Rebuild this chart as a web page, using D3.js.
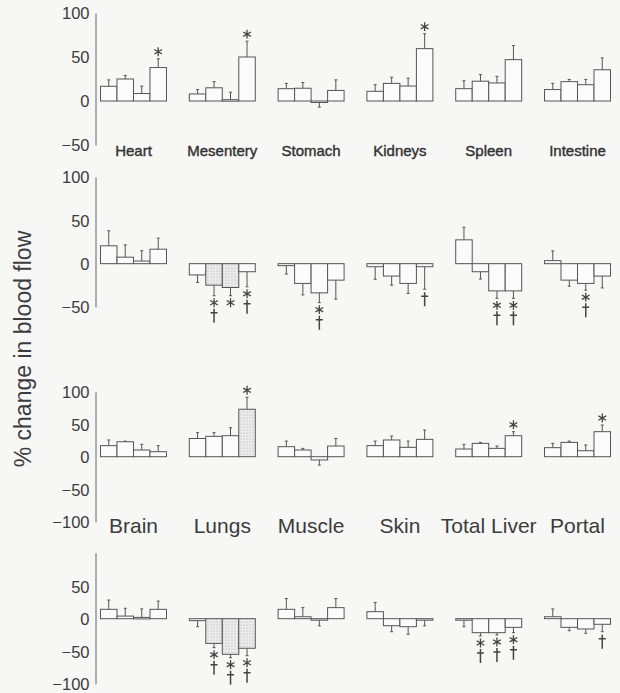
<!DOCTYPE html>
<html>
<head>
<meta charset="utf-8">
<script src="https://cdn.jsdelivr.net/npm/d3@7"></script>
<style>
  body { margin: 0; background: #f7f7f6; }
  svg { display: block; }
  text { font-family: "Liberation Sans", Arial, Helvetica, sans-serif; fill: #3c3c3c; }
</style>
</head>
<body>
<svg id="chart" width="620" height="693"></svg>
<script>
// organ names
const organsTop = ["Heart", "Mesentery", "Stomach", "Kidneys", "Spleen", "Intestine"];
const organsBottom = ["Brain", "Lungs", "Muscle", "Skin", "Total Liver", "Portal"];

// panel 1 (top organs) - mean % change and error
const p1Mean = [[16.7, 25, 8.5, 38], [8, 15, 1.5, 50], [14, 14.5, -1, 12], [11, 20, 17, 59.5], [14, 22.5, 20.5, 47], [13, 22, 18.5, 35.5]];
const p1Err = [[7.3, 4, 8.5, 10], [5, 7, 8.5, 18], [6, 6.5, 6, 12], [7.5, 7, 9, 17], [9, 7.5, 7.5, 16], [7, 2.5, 6, 13.5]];
const p1Sig = [["", "", "", "*"], ["", "", "", "*"], ["", "", "", ""], ["", "", "", "*"], ["", "", "", ""], ["", "", "", ""]];

// panel 2 (top organs)
const p2Mean = [[20.6, 7.5, 3, 16.7], [-13, -24.8, -27.5, -9.3], [-2.3, -22.8, -33.7, -19], [-3.5, -14.3, -22.8, -3.5], [27.5, -9.3, -31.4, -31.4], [3.5, -19, -22.8, -14.3]];
const p2Err = [[17.4, 14.2, 12, 12.8], [8.6, 12.2, 9.5, 17.4], [9.7, 13.2, 11.3, 22], [14.5, 10.5, 11.6, 26], [14.5, 8.5, 8.6, 8.6], [11.2, 7, 7.8, 13.7]];
const p2Sig = [["", "", "", ""], ["", "*†", "*", "*†"], ["", "", "*†", ""], ["", "", "", "†"], ["", "", "*†", "*†"], ["", "", "*†", ""]];

// panel 3 (bottom organs)
const p3Mean = [[17, 23, 10.3, 7.7], [28, 31.3, 32.3, 73], [15.4, 10.3, -5, 16.4], [17, 25.7, 14.4, 26.7], [11.8, 20.5, 12.8, 32.3], [13.9, 22, 9.2, 38.5]];
const p3Err = [[8.7, 1, 8.7, 9.3], [9, 5.7, 12.3, 18.4], [8.6, 2.5, 7.8, 11.6], [7, 6.1, 9.6, 14.3], [7.2, 1.5, 3.6, 6.2], [6.6, 2, 8.8, 10.2]];
const p3Sig = [["", "", "", ""], ["", "", "", "*"], ["", "", "", ""], ["", "", "", ""], ["", "", "", "*"], ["", "", "", "*"]];

// panel 4 (bottom organs)
const p4Mean = [[14.4, 4, 2, 14.4], [-3, -38, -54.8, -45.5], [14.4, 3, -2, 17], [10.8, -10.8, -12.3, -1], [-2, -21.5, -21.5, -13.3], [3, -13.3, -15.8, -8.6]];
const p4Err = [[14.3, 12, 13, 12.6], [9.3, 6.6, 5.2, 11.5], [16.6, 14, 9, 14], [14.2, 9.2, 11.7, 10], [10.3, 5.1, 3.5, 8.2], [12, 5.2, 6.7, 11.4]];
const p4Sig = [["", "", "", ""], ["", "*†", "*†", "*†"], ["", "", "", ""], ["", "", "", ""], ["", "*†", "*†", "*†"], ["", "", "", "†"]];

// stippled bars: [group, bar]
const p2Shaded = [[1, 1], [1, 2]];
const p3Shaded = [[1, 3]];
const p4Shaded = [[1, 1], [1, 2], [1, 3]];

const ticks1 = [-50, 0, 50, 100];
const ticks3 = [-100, -50, 0, 50, 100];
const ticks4 = [-100, -50, 0, 50];

const svg = d3.select("#chart");

// dotted pattern for the shaded bars
const pat = svg.append("defs").append("pattern")
    .attr("id", "dots")
    .attr("width", 3).attr("height", 3)
    .attr("patternUnits", "userSpaceOnUse");
pat.append("rect").attr("width", 3).attr("height", 3).attr("fill", "#ececec");
pat.append("circle").attr("cx", 1).attr("cy", 1).attr("r", 0.6).attr("fill", "#aaa");

const x = d3.scaleBand()
    .domain(d3.range(6))
    .range([100.5, 610.5])
    .paddingInner(0.257)
    .paddingOuter(0);
const xBar = d3.scaleBand()
    .domain(d3.range(4))
    .range([0, x.bandwidth()]);

const panels = [
    { mean: p1Mean, err: p1Err, sig: p1Sig, shaded: [], domain: [-50, 100], range: [145, 13], ticks: ticks1 },
    { mean: p2Mean, err: p2Err, sig: p2Sig, shaded: p2Shaded, domain: [-50, 100], range: [307, 177], ticks: ticks1 },
    { mean: p3Mean, err: p3Err, sig: p3Sig, shaded: p3Shaded, domain: [-100, 100], range: [521.7, 391.7], ticks: ticks3 },
    { mean: p4Mean, err: p4Err, sig: p4Sig, shaded: p4Shaded, domain: [-100, 101.5], range: [683.7, 552.7], ticks: ticks4 }
];

// dagger drawn as a path (centred on 0,0)
const daggerPath = "M0,-7V7M-3.5,-3H3.5";

function drawPanel(p) {
    const y = d3.scaleLinear().domain(p.domain).range(p.range);
    const g = svg.append("g");

    // y axis
    const ax = g.append("g")
        .attr("transform", "translate(95.5,0)")
        .call(d3.axisLeft(y).tickValues(p.ticks).tickSize(0).tickPadding(6).tickFormat(d3.format("d")));
    ax.select(".domain").attr("stroke", "#666").attr("stroke-width", 1);
    ax.selectAll("text")
        .attr("font-size", 16.5)
        .attr("fill", "#444")
        .style("font-family", "'Liberation Sans', Arial, sans-serif")
        .attr("dy", "0.36em");

    const isShaded = (gi, bi) => p.shaded.some(s => s[0] === gi && s[1] === bi);

    // flatten
    const rows = [];
    p.mean.forEach((arr, gi) => arr.forEach((v, bi) => {
        rows.push({ gi, bi, v, e: p.err[gi][bi], sig: p.sig[gi][bi] });
    }));

    const bx = d => x(d.gi) + xBar(d.bi);
    const cx = d => bx(d) + xBar.bandwidth() / 2;
    const tip = d => d.v >= 0 ? d.v + d.e : d.v - d.e;

    // error bars (drawn first, bars on top)
    g.selectAll(".err").data(rows).enter().append("line")
        .attr("x1", cx).attr("x2", cx)
        .attr("y1", d => y(d.v)).attr("y2", d => y(tip(d)))
        .attr("stroke", "#555").attr("stroke-width", 1);
    g.selectAll(".cap").data(rows).enter().append("line")
        .attr("x1", d => cx(d) - 1.5).attr("x2", d => cx(d) + 1.5)
        .attr("y1", d => y(tip(d))).attr("y2", d => y(tip(d)))
        .attr("stroke", "#555").attr("stroke-width", 1);

    // bars
    g.selectAll(".bar").data(rows).enter().append("rect")
        .attr("x", bx)
        .attr("width", xBar.bandwidth())
        .attr("y", d => y(Math.max(0, d.v)))
        .attr("height", d => Math.max(1.5, Math.abs(y(d.v) - y(0))))
        .attr("fill", d => isShaded(d.gi, d.bi) ? "url(#dots)" : "#fbfbfb")
        .attr("stroke", "#555")
        .attr("stroke-width", 1);

    // significance markers
    const sigRows = rows.filter(d => d.sig);
    sigRows.forEach(d => {
        const t = y(tip(d));
        const up = d.v >= 0;
        let pos = up ? t - 7 : t + 7;
        if (d.sig.includes("*")) {
            g.append("path")
                .attr("d", d3.symbol(d3.symbolAsterisk, 55)())
                .attr("transform", `translate(${cx(d)},${pos})`)
                .attr("stroke", "#444").attr("stroke-width", 1.3).attr("fill", "none");
            pos = up ? pos - 13 : pos + 13;
        } else {
            pos = up ? t - 10 : t + 10;
        }
        if (d.sig.includes("†")) {
            g.append("path")
                .attr("d", daggerPath)
                .attr("transform", `translate(${cx(d)},${pos})`)
                .attr("stroke", "#444").attr("stroke-width", 1.5).attr("fill", "none");
        }
    });
}

panels.forEach(drawPanel);

// organ labels
svg.selectAll(".lab1").data(organsTop).enter().append("text")
    .attr("x", (d, i) => x(i) + x.bandwidth() / 2)
    .attr("y", 156)
    .attr("text-anchor", "middle")
    .attr("font-size", 15)
    .style("fill", "#333")
    .style("stroke", "#333")
    .style("stroke-width", 0.4)
    .text(d => d);

svg.selectAll(".lab3").data(organsBottom).enter().append("text")
    .attr("x", (d, i) => x(i) + x.bandwidth() / 2)
    .attr("y", 533)
    .attr("text-anchor", "middle")
    .attr("font-size", 21)
    .text(d => d);

// y title
svg.append("text")
    .attr("transform", "translate(23,349) rotate(-90)")
    .attr("text-anchor", "middle")
    .attr("dy", "0.35em")
    .attr("font-size", 23)
    .text("% change in blood flow");
</script>
</body>
</html>
